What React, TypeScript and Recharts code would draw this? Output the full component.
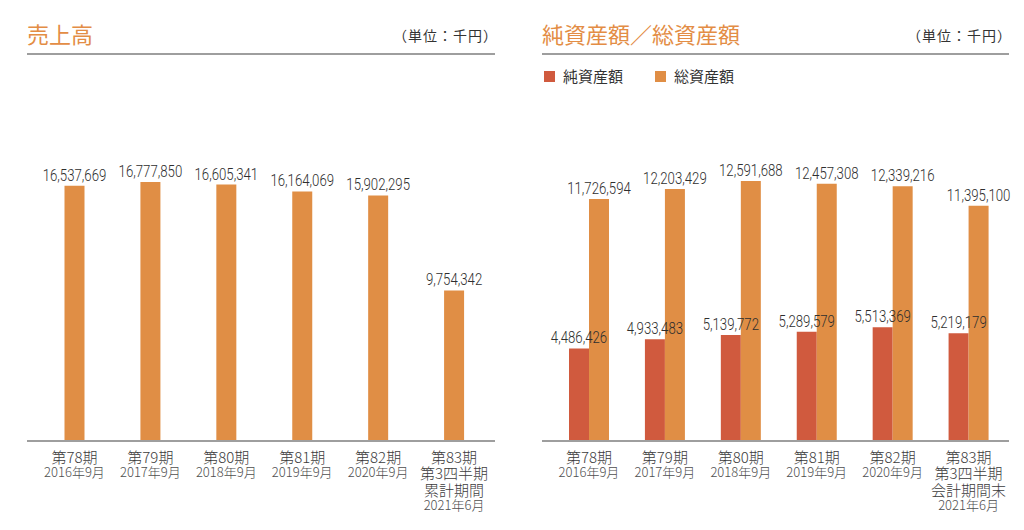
import React from 'react';
import { BarChart, Bar, XAxis, YAxis, ReferenceArea, LabelList } from 'recharts';

// ---- data ----
const categories = ['第78期', '第79期', '第80期', '第81期', '第82期', '第83期'];
const periodDates = ['2016年9月', '2017年9月', '2018年9月', '2019年9月', '2020年9月', '2021年6月'];
const salesExtraLines = ['第3四半期', '累計期間'];
const assetsExtraLines = ['第3四半期', '会計期間末'];
const sales = [16537669, 16777850, 16605341, 16164069, 15902295, 9754342];
const netAssets = [4486426, 4933483, 5139772, 5289579, 5513369, 5219179];
const totalAssets = [11726594, 12203429, 12591688, 12457308, 12339216, 11395100];
const highlightCategory = '第83期';

const salesData = categories.map((c, i) => ({ name: c, sales: sales[i] }));
const assetsData = categories.map((c, i) => ({ name: c, net: netAssets[i], total: totalAssets[i] }));

// ---- styles ----
const ORANGE = '#E08E45';
const RED = '#D05A3E';
const GREY_BAND = '#E3E3E1';
const AXIS_GREY = '#9E9E9E';
const TITLE_COLOR = '#E38D45';
const TEXT = '#333333';
const JP_FONT = "'Noto Sans CJK JP', 'Noto Sans', sans-serif";
const NUM_FONT = "Roboto, 'Liberation Sans', sans-serif";

const fmt = (v: any) => Number(v).toLocaleString('en-US');

// value label: condensed light numerals above each bar
const ValueLabel = (props: any) => {
  const { x, y, width, value } = props;
  const cx = Number(x) + Number(width) / 2;
  const by = Number(y) - 5;
  return (
    <text
      transform={`translate(${cx},${by}) scale(0.8,1)`}
      x={0}
      y={0}
      textAnchor="middle"
      fontSize={16.5}
      fontWeight={300}
      fill="#2e2e2e"
      fontFamily={NUM_FONT}
    >
      {fmt(value)}
    </text>
  );
};

// multi-line category tick drawn as one text element with tspans
const makeTick = (extra: string[]) => (props: any) => {
  const { x, y, payload } = props;
  const i = categories.indexOf(payload.value);
  const lines = [payload.value, ...(i === categories.length - 1 ? extra : [])];
  const date = periodDates[i];
  const center0 = Number(y) + 16;
  return (
    <text textAnchor="middle" fontFamily={JP_FONT} fontWeight={300}>
      {lines.map((l, k) => (
        <tspan key={k} x={x} y={center0 + k * 16.5 + 5.7} fontSize={15} fill="#3c3c3c">
          {l}
        </tspan>
      ))}
      <tspan x={x} y={center0 + lines.length * 16.5 - 1 + 4.9} fontSize={13} fill="#4e4e4e">
        {date}
      </tspan>
    </text>
  );
};

const SalesTick = makeTick(salesExtraLines);
const AssetsTick = makeTick(assetsExtraLines);

const Header = ({ left, width, title }: { left: number; width: number; title: string }) => (
  <>
    <div
      style={{
        position: 'absolute',
        left,
        top: 21,
        fontFamily: JP_FONT,
        fontSize: 22,
        lineHeight: '24px',
        color: TITLE_COLOR,
        whiteSpace: 'nowrap',
      }}
    >
      {title}
    </div>
    <div
      style={{
        position: 'absolute',
        left: left + width - 102,
        width: 100,
        top: 26,
        textAlign: 'right',
        fontFamily: JP_FONT,
        fontSize: 14,
        lineHeight: '18px',
        color: TEXT,
        whiteSpace: 'nowrap',
        letterSpacing: 1,
      }}
    >
      （単位：千円）
    </div>
    <div
      style={{
        position: 'absolute',
        left,
        top: 53,
        width,
        height: 2,
        background: AXIS_GREY,
      }}
    />
  </>
);

export default function App() {
  return (
    <div
      style={{
        position: 'absolute',
        left: 0,
        top: 0,
        width: 1024,
        height: 530,
        background: '#fff',
        overflow: 'hidden',
      }}
    >
      <Header left={27} width={468} title="売上高" />
      <Header left={542} width={467} title="純資産額／総資産額" />

      {/* legend */}
      <div
        style={{
          position: 'absolute',
          left: 544,
          top: 66,
          display: 'flex',
          alignItems: 'center',
          fontFamily: JP_FONT,
          fontSize: 15,
          color: TEXT,
          lineHeight: '20px',
        }}
      >
        <span style={{ width: 11, height: 11, background: RED, display: 'inline-block', marginRight: 8 }} />
        <span style={{ marginRight: 32 }}>純資産額</span>
        <span style={{ width: 11, height: 11, background: ORANGE, display: 'inline-block', marginRight: 8 }} />
        <span>総資産額</span>
      </div>

      {/* left chart */}
      <div style={{ position: 'absolute', left: 0, top: 0 }}>
        <BarChart
          width={512}
          height={530}
          data={salesData}
          margin={{ top: 55, right: 17, bottom: 0, left: 27 }}
        >
          <YAxis hide width={0} domain={[0, 25000000]} />
          <XAxis
            dataKey="name"
            height={89}
            padding={{ left: 9.5, right: 3 }}
            tickLine={false}
            tickSize={0}
            tickMargin={0}
            axisLine={{ stroke: AXIS_GREY, strokeWidth: 2 }}
            tick={<SalesTick />}
            interval={0}
          />
          <ReferenceArea
            x1={highlightCategory}
            x2={highlightCategory}
            fill={GREY_BAND}
            fillOpacity={1}
            stroke="none"
          />
          <Bar dataKey="sales" fill={ORANGE} barSize={20} isAnimationActive={false}>
            <LabelList dataKey="sales" content={<ValueLabel />} />
          </Bar>
        </BarChart>
      </div>

      {/* right chart */}
      <div style={{ position: 'absolute', left: 512, top: 0 }}>
        <BarChart
          width={512}
          height={530}
          data={assetsData}
          barGap={0}
          margin={{ top: 55, right: 15, bottom: 0, left: 30 }}
        >
          <YAxis hide width={0} domain={[0, 18700000]} />
          <XAxis
            dataKey="name"
            height={89}
            padding={{ left: 9, right: 2.5 }}
            tickLine={false}
            tickSize={0}
            tickMargin={0}
            axisLine={{ stroke: AXIS_GREY, strokeWidth: 2 }}
            tick={<AssetsTick />}
            interval={0}
          />
          <ReferenceArea
            x1={highlightCategory}
            x2={highlightCategory}
            fill={GREY_BAND}
            fillOpacity={1}
            stroke="none"
          />
          <Bar dataKey="net" name="純資産額" fill={RED} barSize={20} isAnimationActive={false}>
            <LabelList dataKey="net" content={<ValueLabel />} />
          </Bar>
          <Bar dataKey="total" name="総資産額" fill={ORANGE} barSize={20} isAnimationActive={false}>
            <LabelList dataKey="total" content={<ValueLabel />} />
          </Bar>
        </BarChart>
      </div>
    </div>
  );
}
